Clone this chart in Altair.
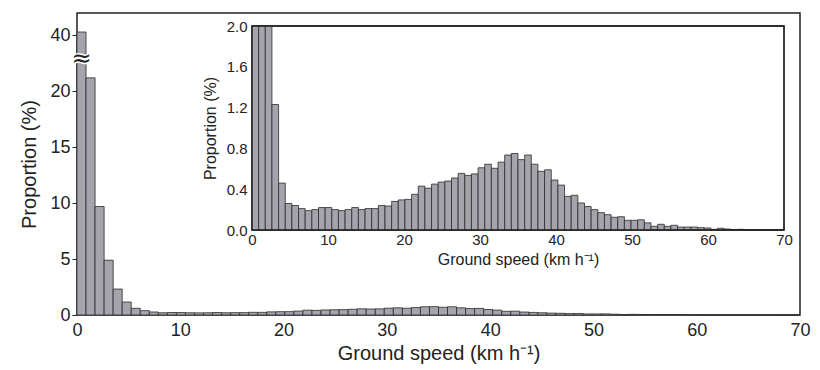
import altair as alt
import pandas as pd

# ---- data ----
BIN_WIDTH = 0.875
bin_lo = [round(i * BIN_WIDTH, 4) for i in range(80)]

# main panel: first bins (first value is 40.3 %, drawn above the axis break)
main_head = [40.3, 21.2, 9.7, 4.9, 2.32, 1.16, 0.6, 0.39, 0.27]

# inset panel (values above 2.0 are clipped in the inset)
inset_prop = [40.3, 21.2, 9.7, 1.23, 0.46, 0.26, 0.24, 0.21, 0.19, 0.20,
              0.22, 0.22, 0.20, 0.19, 0.20, 0.22, 0.20, 0.21, 0.21, 0.24,
              0.235, 0.28, 0.295, 0.30, 0.35, 0.43, 0.41, 0.45, 0.47, 0.48,
              0.51, 0.555, 0.535, 0.55, 0.61, 0.645, 0.605, 0.665, 0.735, 0.75,
              0.69, 0.735, 0.645, 0.575, 0.59, 0.49, 0.44, 0.33, 0.34, 0.265,
              0.23, 0.20, 0.17, 0.15, 0.125, 0.13, 0.095, 0.095, 0.10, 0.07,
              0.036, 0.056, 0.036, 0.046, 0.029, 0.029, 0.029, 0.023, 0.02, 0.007,
              0.017, 0.01, 0.005, 0.007, 0.005, 0.004, 0.003, 0.002, 0.001, 0.001]

main_prop = main_head + inset_prop[len(main_head):]

main_ticks = [0, 5, 10, 15, 20, 25]
x_ticks = [0, 10, 20, 30, 40, 50, 60, 70]
inset_y_ticks = [0, 0.4, 0.8, 1.2, 1.6, 2.0]

main_df = pd.DataFrame({"lo": bin_lo, "hi": [b + BIN_WIDTH for b in bin_lo], "p": main_prop})
inset_df = pd.DataFrame({"lo": bin_lo, "hi": [b + BIN_WIDTH for b in bin_lo], "p": inset_prop})
break_df = pd.DataFrame({"x": [0.45], "y": [22.9], "s": ["≈"]})
frame_df = pd.DataFrame({"x0": [0], "x1": [70], "y0": [0], "y1": [2]})

FONT = "Liberation Sans"
BAR_FILL = "#a4a4ac"
BAR_STROKE = "#2b2b2b"
INK = "#222222"
XTITLE = "Ground speed (km h⁻¹)"
YTITLE = "Proportion (%)"

W, H = 723, 302

# ---- main panel ----
main_x = alt.Scale(domain=[0, 70], nice=False, zero=False)
main_y = alt.Scale(domain=[0, 27], nice=False)

main_x_axis = alt.Axis(orient="bottom", values=x_ticks, title=XTITLE, ticks=False,
                       domain=False, labelFontSize=18, titleFontSize=20,
                       labelPadding=6, titlePadding=4, labelFlush=False,
                       labelColor=INK, titleColor=INK, titleFontWeight="normal")
main_y_axis = alt.Axis(orient="left", values=main_ticks,
                       labelExpr="datum.value == 25 ? '40' : datum.label",
                       title=YTITLE, ticks=True, tickSize=5, tickColor=INK,
                       domain=False, labelFontSize=18, titleFontSize=20,
                       labelPadding=2, titlePadding=10, labelFlush=False,
                       labelColor=INK, titleColor=INK, titleFontWeight="normal")

main_bars = alt.Chart(main_df).transform_calculate(
    shown="datum.p > 22 ? datum.p - 15 : datum.p"
).mark_rect(fill=BAR_FILL, stroke=BAR_STROKE, strokeWidth=0.8).encode(
    x=alt.X("lo:Q", scale=main_x, axis=main_x_axis),
    x2="hi:Q",
    y=alt.Y("shown:Q", scale=main_y, axis=main_y_axis),
    y2=alt.datum(0),
)

break_halo = alt.Chart(break_df).mark_text(
    font="DejaVu Sans", fontSize=24, fill="white", stroke="white", strokeWidth=3
).encode(x=alt.X("x:Q", scale=main_x, axis=main_x_axis),
         y=alt.Y("y:Q", scale=main_y, axis=main_y_axis), text="s:N")
break_mark = alt.Chart(break_df).mark_text(
    font="DejaVu Sans", fontSize=24, color=INK
).encode(x=alt.X("x:Q", scale=main_x, axis=main_x_axis),
         y=alt.Y("y:Q", scale=main_y, axis=main_y_axis), text="s:N")

main_layer = alt.layer(main_bars, break_halo, break_mark)

# ---- inset panel ----
inset_x = alt.Scale(domain=[0, 70], range=[175, 707], nice=False, zero=False)
inset_y = alt.Scale(domain=[0, 2], range=[217, 13], nice=False)

inset_x_axis = alt.Axis(orient="bottom", offset=-85, values=x_ticks, title=XTITLE,
                        ticks=False, domain=False, labelFontSize=15, titleFontSize=16,
                        labelPadding=2, titlePadding=4, labelFlush=False,
                        labelColor=INK, titleColor=INK, titleFontWeight="normal")
inset_y_axis = alt.Axis(orient="left", offset=-175, values=inset_y_ticks, format=".1f",
                        title=YTITLE, ticks=False, domain=False, labelFontSize=15,
                        titleFontSize=16, labelPadding=5, titlePadding=8,
                        labelFlush=False, labelColor=INK, titleColor=INK,
                        titleFontWeight="normal")

inset_frame = alt.Chart(frame_df).mark_rect(fill="white", stroke=INK, strokeWidth=1.3).encode(
    x=alt.X("x0:Q", scale=inset_x, axis=inset_x_axis),
    x2="x1:Q",
    y=alt.Y("y0:Q", scale=inset_y, axis=inset_y_axis),
    y2="y1:Q",
)
inset_bars = alt.Chart(inset_df).transform_calculate(
    shown="min(datum.p, 2)"
).mark_rect(fill=BAR_FILL, stroke=BAR_STROKE, strokeWidth=0.8).encode(
    x=alt.X("lo:Q", scale=inset_x, axis=inset_x_axis),
    x2="hi:Q",
    y=alt.Y("shown:Q", scale=inset_y, axis=inset_y_axis),
    y2=alt.datum(0),
)
inset_border = alt.Chart(frame_df).mark_rect(fill=None, stroke=INK, strokeWidth=1.3).encode(
    x=alt.X("x0:Q", scale=inset_x, axis=inset_x_axis),
    x2="x1:Q",
    y=alt.Y("y0:Q", scale=inset_y, axis=inset_y_axis),
    y2="y1:Q",
)

inset_layer = alt.layer(inset_frame, inset_bars, inset_border)

chart = alt.layer(main_layer, inset_layer).resolve_scale(
    x="independent", y="independent"
).properties(
    width=W, height=H,
    autosize=alt.AutoSizeParams(type="none"),
    padding={"left": 69, "top": 5, "right": 12, "bottom": 50},
    background="white",
).configure_view(
    stroke=INK, strokeWidth=1.5
).configure_axis(
    grid=False, labelFont=FONT, titleFont=FONT
).configure_text(font=FONT)

chart.save("out.html", embed_options={"renderer": "svg", "actions": False})
